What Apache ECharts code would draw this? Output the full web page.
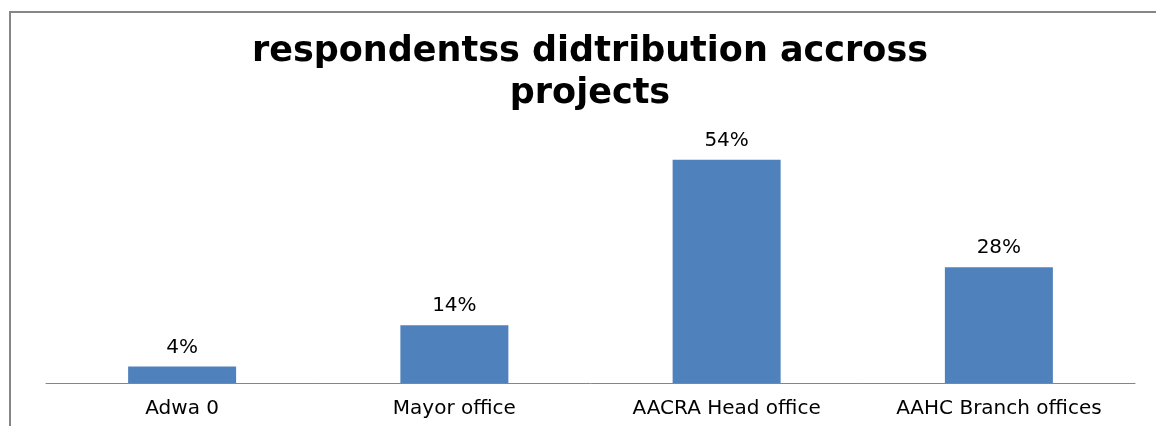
<!DOCTYPE html>
<html>
<head>
<meta charset="utf-8">
<script src="https://cdn.jsdelivr.net/npm/echarts@6/dist/echarts.min.js"></script>
<style>
html,body{margin:0;padding:0;background:#fff;}
#c{width:1156px;height:426px;}
</style>
</head>
<body>
<div id="c"></div>
<script>
const titleText = "respondentss didtribution accross\nprojects";
const categories = ["Adwa 0", "Mayor office", "AACRA Head office", "AAHC Branch offices"];
const percentValues = [4, 14, 54, 28];
const yMax = 60;

const chart = echarts.init(document.getElementById('c'), null, {renderer: 'canvas'});
chart.setOption({
  animation: false,
  backgroundColor: '#ffffff',
  title: {
    text: titleText,
    left: 590,
    top: 31,
    padding: 0,
    textAlign: 'center',
    textStyle: {
      fontFamily: 'DejaVu Sans',
      fontWeight: 'bold',
      fontSize: 35,
      lineHeight: 42,
      color: '#000'
    }
  },
  graphic: [{
    type: 'rect',
    shape: {x: 10, y: 12, width: 1200, height: 500},
    style: {fill: 'none', stroke: '#868686', lineWidth: 2},
    silent: true
  }],
  grid: {left: 46, right: 21, top: 135, bottom: 43, containLabel: false},
  xAxis: {
    type: 'category',
    data: categories,
    axisLine: {show: true, lineStyle: {color: '#868686', width: 1}},
    axisTick: {show: false},
    axisLabel: {
      margin: 16,
      fontFamily: 'DejaVu Sans',
      fontSize: 20,
      color: '#000',
      interval: 0
    }
  },
  yAxis: {
    type: 'value',
    min: 0,
    max: yMax,
    show: false,
    splitLine: {show: false}
  },
  series: [{
    type: 'bar',
    data: percentValues,
    barWidth: 108,
    itemStyle: {color: '#4F81BD'},
    label: {
      show: true,
      position: 'top',
      distance: 9,
      formatter: '{c}%',
      fontFamily: 'DejaVu Sans',
      fontSize: 20,
      color: '#000'
    }
  }]
});
</script>
</body>
</html>
